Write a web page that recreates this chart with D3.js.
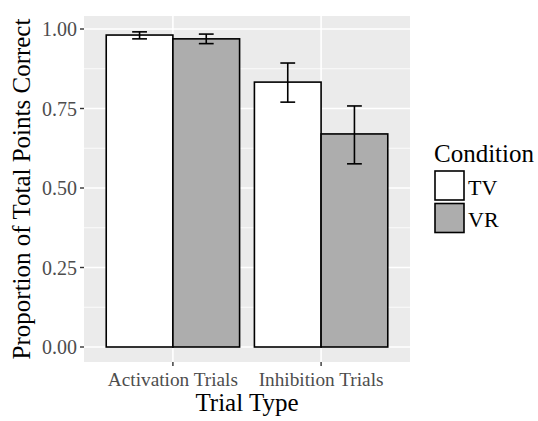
<!DOCTYPE html>
<html><head><meta charset="utf-8">
<script src="https://cdn.jsdelivr.net/npm/d3@7"></script>
<style>body{margin:0;background:#fff}svg{display:block}</style>
</head><body><svg id="c" width="538" height="421"></svg>
<script>
const categories = ["Activation Trials", "Inhibition Trials"];
const conditions = ["TV", "VR"];
const meanTV = [0.981, 0.833];
const meanVR = [0.969, 0.670];
const lowTV = [0.969, 0.770];
const highTV = [0.991, 0.893];
const lowVR = [0.954, 0.576];
const highVR = [0.984, 0.758];
const yTicks = [0, 0.25, 0.5, 0.75, 1.0];
const fills = {TV: "#ffffff", VR: "#adadad"};

const svg = d3.select("#c");
const font = "Liberation Serif";
const P = {l: 84, r: 410, t: 16, b: 362};

const x = d3.scaleLinear().domain([0.4, categories.length + 0.6]).range([P.l, P.r]);
const y = d3.scaleLinear().domain([0, 1]).range([347, 29]);

// panel
svg.append("rect").attr("x", P.l).attr("y", P.t).attr("width", P.r - P.l).attr("height", P.b - P.t).attr("fill", "#ebebeb");
const minor = [0.125, 0.375, 0.625, 0.875];
svg.selectAll(".mn").data(minor).join("line")
  .attr("x1", P.l).attr("x2", P.r).attr("y1", d => y(d)).attr("y2", d => y(d))
  .attr("stroke", "#fff").attr("stroke-width", 0.8);
svg.selectAll(".mj").data(yTicks).join("line")
  .attr("x1", P.l).attr("x2", P.r).attr("y1", d => y(d)).attr("y2", d => y(d))
  .attr("stroke", "#fff").attr("stroke-width", 1.6);
svg.selectAll(".vg").data(categories).join("line")
  .attr("x1", (d, i) => x(i + 1)).attr("x2", (d, i) => x(i + 1)).attr("y1", P.t).attr("y2", P.b)
  .attr("stroke", "#fff").attr("stroke-width", 1.6);

// bars
const rows = [];
categories.forEach((c, i) => {
  rows.push({i, cond: "TV", m: meanTV[i], lo: lowTV[i], hi: highTV[i], off: -0.225});
  rows.push({i, cond: "VR", m: meanVR[i], lo: lowVR[i], hi: highVR[i], off: 0.225});
});
const bw = 0.45;
svg.selectAll(".bar").data(rows).join("rect")
  .attr("x", d => x(d.i + 1 + d.off - bw / 2))
  .attr("width", d => x(bw) - x(0))
  .attr("y", d => y(d.m)).attr("height", d => y(0) - y(d.m))
  .attr("fill", d => fills[d.cond]).attr("stroke", "#000").attr("stroke-width", 1.6);

// error bars
const cw = 0.05;
const eb = svg.selectAll(".eb").data(rows).join("g").attr("stroke", "#000").attr("stroke-width", 1.6);
eb.append("line").attr("x1", d => x(d.i + 1 + d.off)).attr("x2", d => x(d.i + 1 + d.off))
  .attr("y1", d => y(d.lo)).attr("y2", d => y(d.hi));
eb.append("line").attr("x1", d => x(d.i + 1 + d.off - cw)).attr("x2", d => x(d.i + 1 + d.off + cw))
  .attr("y1", d => y(d.lo)).attr("y2", d => y(d.lo));
eb.append("line").attr("x1", d => x(d.i + 1 + d.off - cw)).attr("x2", d => x(d.i + 1 + d.off + cw))
  .attr("y1", d => y(d.hi)).attr("y2", d => y(d.hi));

// y axis
svg.selectAll(".yt").data(yTicks).join("line")
  .attr("x1", P.l - 4).attr("x2", P.l).attr("y1", d => y(d)).attr("y2", d => y(d))
  .attr("stroke", "#333").attr("stroke-width", 1.4);
svg.selectAll(".yl").data(yTicks).join("text")
  .attr("x", P.l - 7).attr("y", d => y(d)).attr("dy", "0.35em")
  .attr("text-anchor", "end").attr("font-family", font).attr("font-size", 20).attr("fill", "#4d4d4d")
  .text(d => d3.format(".2f")(d));

// x axis
svg.selectAll(".xt").data(categories).join("line")
  .attr("x1", (d, i) => x(i + 1)).attr("x2", (d, i) => x(i + 1)).attr("y1", P.b).attr("y2", P.b + 4)
  .attr("stroke", "#333").attr("stroke-width", 1.4);
svg.selectAll(".xl").data(categories).join("text")
  .attr("x", (d, i) => x(i + 1)).attr("y", 386)
  .attr("text-anchor", "middle").attr("font-family", font).attr("font-size", 19.3).attr("fill", "#4d4d4d")
  .text(d => d);

// titles
svg.append("text").attr("x", (P.l + P.r) / 2).attr("y", 411).attr("text-anchor", "middle")
  .attr("font-family", font).attr("font-size", 25).attr("fill", "#000").text("Trial Type");
svg.append("text").attr("transform", `translate(30,${(P.t + P.b) / 2}) rotate(-90)`).attr("text-anchor", "middle")
  .attr("font-family", font).attr("font-size", 25).attr("fill", "#000").text("Proportion of Total Points Correct");

// legend
svg.append("text").attr("x", 434).attr("y", 162).attr("font-family", font).attr("font-size", 25).text("Condition");
const lg = svg.selectAll(".lg").data(conditions).join("g").attr("transform", (d, i) => `translate(435,${171 + i * 32.5})`);
lg.append("rect").attr("width", 29).attr("height", 29).attr("fill", d => fills[d]).attr("stroke", "#000").attr("stroke-width", 1.6);
lg.append("text").attr("x", 33).attr("y", 23.5).attr("font-family", font).attr("font-size", 22).text(d => d);
</script></body></html>
